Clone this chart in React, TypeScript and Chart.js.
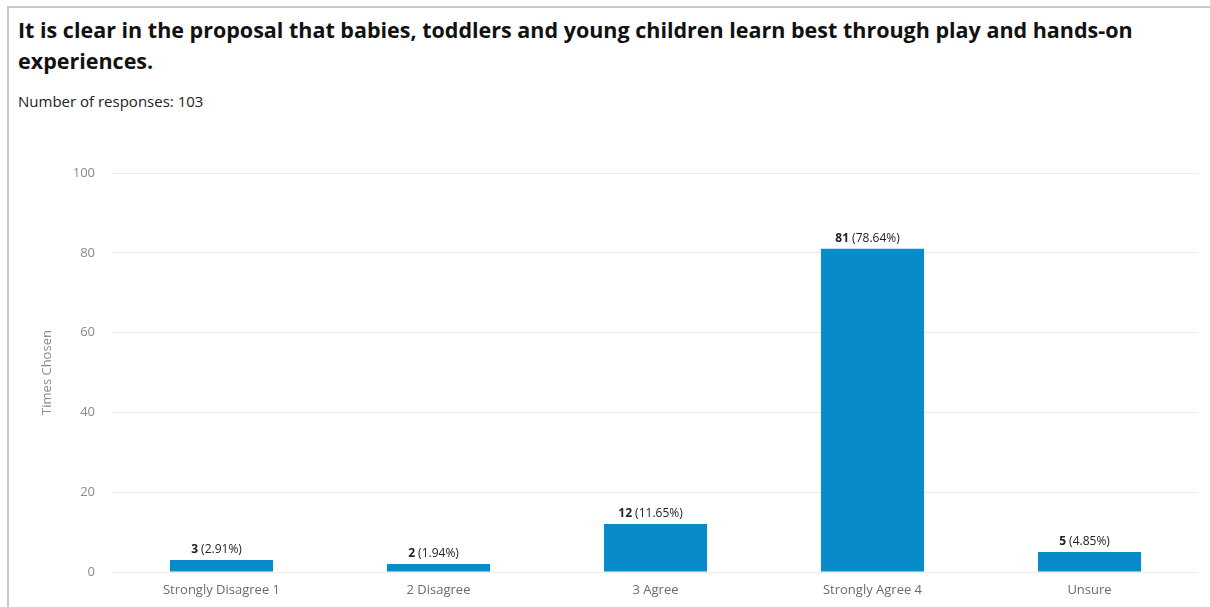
import React, { useEffect, useRef } from "react";
import { Chart, registerables } from "chart.js";

Chart.register(...registerables);

const titleLine1 =
  "It is clear in the proposal that babies, toddlers and young children learn best through play and hands-on";
const titleLine2 = "experiences.";
const subtitle = "Number of responses: 103";

const categories = ["Strongly Disagree 1", "2 Disagree", "3 Agree", "Strongly Agree 4", "Unsure"];
const counts = [3, 2, 12, 81, 5];
const percents = ["2.91%", "1.94%", "11.65%", "78.64%", "4.85%"];
const yMin = 0;
const yMax = 100;
const yStep = 20;
const yTitle = "Times Chosen";

const FONT = "'Open Sans', 'Noto Sans', sans-serif";

const labelPlugin = {
  id: "barLabels",
  afterDatasetsDraw(chart: any) {
    const ctx = chart.ctx;
    const meta = chart.getDatasetMeta(0);
    ctx.save();
    ctx.textBaseline = "alphabetic";
    ctx.fillStyle = "#222222";
    meta.data.forEach((bar: any, i: number) => {
      const bold = String(counts[i]);
      const normal = " (" + percents[i] + ")";
      ctx.font = "bold 12px " + FONT;
      const wb = ctx.measureText(bold).width;
      ctx.font = "12px " + FONT;
      const wn = ctx.measureText(normal).width;
      const total = wb + wn;
      const x0 = bar.x - total / 2 - 5;
      const y = bar.y - 7;
      ctx.font = "bold 12px " + FONT;
      ctx.textAlign = "left";
      ctx.fillText(bold, x0, y);
      ctx.font = "12px " + FONT;
      ctx.fillText(normal, x0 + wb, y);
    });
    ctx.restore();
  },
};

export default function App() {
  const ref = useRef<HTMLCanvasElement | null>(null);

  useEffect(() => {
    if (!ref.current) return;
    const chart = new Chart(ref.current, {
      type: "bar",
      data: {
        labels: categories,
        datasets: [
          {
            data: counts,
            backgroundColor: "#078cc9",
            borderWidth: 0,
            categoryPercentage: 1,
            barPercentage: 0.475,
          },
        ],
      },
      options: {
        responsive: false,
        animation: false,
        layout: { padding: { left: 0, right: 12, top: 43, bottom: 0 } },
        plugins: {
          legend: { display: false },
          tooltip: { enabled: false },
        },
        scales: {
          x: {
            grid: { display: false, drawTicks: false },
            border: { display: false },
            ticks: {
              color: "#6b6b6b",
              font: { family: FONT, size: 13 },
              padding: 10,
              maxRotation: 0,
            },
            afterFit(scale: any) {
              scale.height = 35;
            },
          },
          y: {
            min: yMin,
            max: yMax,
            grid: { color: "#ebebeb", lineWidth: 1, drawTicks: false },
            border: { display: false },
            ticks: {
              stepSize: yStep,
              color: "#8a8a8a",
              font: { family: FONT, size: 13 },
              padding: 18,
            },
            title: {
              display: true,
              text: yTitle,
              color: "#8a8a8a",
              font: { family: FONT, size: 13 },
              padding: { top: 39, bottom: 0 },
            },
            afterFit(scale: any) {
              scale.width = 113;
            },
          },
        },
      },
      plugins: [labelPlugin],
    });
    return () => chart.destroy();
  }, []);

  return (
    <div style={{ position: "absolute", left: 0, top: 0, width: 1210, height: 607, background: "#fff", overflow: "hidden" }}>
      <div
        style={{
          position: "absolute",
          left: 7,
          top: 6,
          right: 0,
          bottom: 0,
          borderTop: "2px solid #c9c9c9",
          borderLeft: "2px solid #c9c9c9",
        }}
      />
      <div
        style={{
          position: "absolute",
          left: 18,
          top: 14,
          fontFamily: FONT,
          fontWeight: 700,
          fontSize: 21.5,
          lineHeight: "31px",
          color: "#111",
          whiteSpace: "nowrap",
        }}
      >
        {titleLine1}
        <br />
        {titleLine2}
      </div>
      <div
        style={{
          position: "absolute",
          left: 18,
          top: 91,
          fontFamily: FONT,
          fontSize: 15,
          lineHeight: "20px",
          color: "#222",
          whiteSpace: "nowrap",
        }}
      >
        {subtitle}
      </div>
      <canvas
        ref={ref}
        width={1210}
        height={477}
        style={{ position: "absolute", left: 0, top: 130, width: 1210, height: 477 }}
      />
    </div>
  );
}
